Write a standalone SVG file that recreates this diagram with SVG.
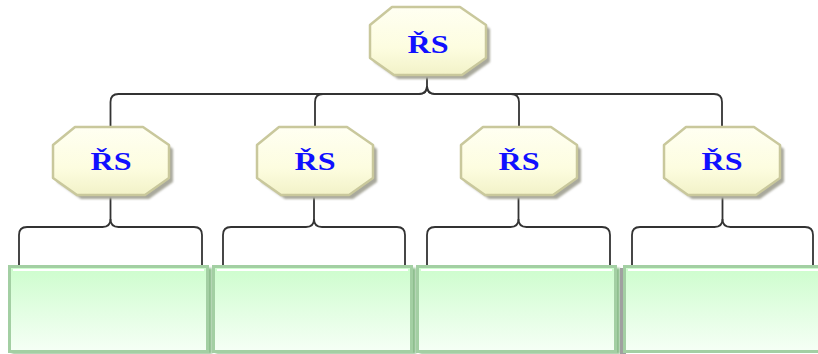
<svg xmlns="http://www.w3.org/2000/svg" width="818" height="354" viewBox="0 0 818 354">
  <defs>
    <linearGradient id="octFill" x1="0" y1="0" x2="0" y2="1">
      <stop offset="0" stop-color="#fffff2"/>
      <stop offset="0.6" stop-color="#fdfde0"/>
      <stop offset="1" stop-color="#f2f2c8"/>
    </linearGradient>
    <linearGradient id="boxFill" x1="0" y1="0" x2="0" y2="1">
      <stop offset="0" stop-color="#cdfdcd"/>
      <stop offset="1" stop-color="#f6fff6"/>
    </linearGradient>
    <filter id="soft" x="-20%" y="-20%" width="140%" height="140%">
      <feGaussianBlur stdDeviation="1.2"/>
    </filter>
    <polygon id="oct" points="-36,-34 32,-34 58,-16 58,17 34,34 -34,34 -58,17 -58,-16"/>
    <style>
      .shadow { fill: #a9a99c; filter: url(#soft); }
      .octBody { fill: url(#octFill); stroke: #c9c89c; stroke-width: 2.5; stroke-linejoin: round; }
      .label { font-family: "Liberation Serif", "Times New Roman", serif; font-weight: bold; font-size: 25px; fill: #1010ff; text-anchor: middle; }
      .conn { fill: none; stroke: #333333; stroke-width: 1.8; }
      .boxShadow { fill: #8fbf8f; filter: url(#soft); }
      .boxBody { fill: url(#boxFill); stroke: #a3cfa3; stroke-width: 3; }
      .boxHi { fill: none; stroke: #ffffff; stroke-width: 2; }
    </style>
  </defs>

  <rect width="818" height="354" fill="#ffffff"/>

  <!-- connectors -->
  <g id="connectors">
    <!-- top bracket -->
    <path class="conn" d="M427,76 V86 Q427,94 419,94 H118.5 Q110.5,94 110.5,102 V127"/>
    <path class="conn" d="M427,86 Q427,94 419,94 H323 Q315,94 315,102 V127"/>
    <path class="conn" d="M427,86 Q427,94 435,94 H511 Q519,94 519,102 V127"/>
    <path class="conn" d="M427,86 Q427,94 435,94 H714 Q722,94 722,102 V127"/>
    <!-- lower brackets -->
    <path class="conn" d="M110.5,195 V219 Q110.5,227 102.5,227 H27 Q19,227 19,235 V266"/>
    <path class="conn" d="M110.5,219 Q110.5,227 118.5,227 H194 Q202,227 202,235 V266"/>
    <path class="conn" d="M314,195 V219 Q314,227 306,227 H231 Q223,227 223,235 V266"/>
    <path class="conn" d="M314,219 Q314,227 322,227 H397 Q405,227 405,235 V266"/>
    <path class="conn" d="M518.5,195 V219 Q518.5,227 510.5,227 H435 Q427,227 427,235 V266"/>
    <path class="conn" d="M518.5,219 Q518.5,227 526.5,227 H602 Q610,227 610,235 V266"/>
    <path class="conn" d="M722.5,195 V219 Q722.5,227 714.5,227 H640 Q632,227 632,235 V266"/>
    <path class="conn" d="M722.5,219 Q722.5,227 730.5,227 H805 Q813,227 813,235 V266"/>
  </g>

  <!-- root -->
  <g id="root" transform="translate(428,41)">
    <use href="#oct" class="shadow" x="4" y="4"/>
    <use href="#oct" class="octBody"/>
    <text class="label" x="0" y="12" textLength="41" lengthAdjust="spacingAndGlyphs">ŘS</text>
  </g>

  <!-- second level -->
  <g id="n1" transform="translate(111,161)">
    <use href="#oct" class="shadow" x="4" y="4"/>
    <use href="#oct" class="octBody"/>
    <text class="label" x="0" y="9" textLength="41" lengthAdjust="spacingAndGlyphs">ŘS</text>
  </g>
  <g id="n2" transform="translate(315,161)">
    <use href="#oct" class="shadow" x="4" y="4"/>
    <use href="#oct" class="octBody"/>
    <text class="label" x="0" y="9" textLength="41" lengthAdjust="spacingAndGlyphs">ŘS</text>
  </g>
  <g id="n3" transform="translate(519,161)">
    <use href="#oct" class="shadow" x="4" y="4"/>
    <use href="#oct" class="octBody"/>
    <text class="label" x="0" y="9" textLength="41" lengthAdjust="spacingAndGlyphs">ŘS</text>
  </g>
  <g id="n4" transform="translate(722,161)">
    <use href="#oct" class="shadow" x="4" y="4"/>
    <use href="#oct" class="octBody"/>
    <text class="label" x="0" y="9" textLength="41" lengthAdjust="spacingAndGlyphs">ŘS</text>
  </g>

  <!-- third level boxes -->
  <g id="b1">
    <rect class="boxShadow" x="12" y="268" width="200" height="86"/>
    <rect class="boxBody" x="9.5" y="266.5" width="198" height="85"/>
    <path class="boxHi" d="M13,270 H204"/>
  </g>
  <g id="b2">
    <rect class="boxShadow" x="216" y="268" width="200" height="86"/>
    <rect class="boxBody" x="213.5" y="266.5" width="198" height="85"/>
    <path class="boxHi" d="M217,270 H408"/>
  </g>
  <g id="b3">
    <rect class="boxShadow" x="420" y="268" width="200" height="86"/>
    <rect class="boxBody" x="417.5" y="266.5" width="198" height="85"/>
    <path class="boxHi" d="M421,270 H612"/>
  </g>
  <g id="b4">
    <rect x="620" y="268" width="6" height="86" fill="#a0a0a0"/>
    <rect class="boxBody" x="624.5" y="266.5" width="196" height="85"/>
    <path class="boxHi" d="M628,270 H818"/>
  </g>
</svg>
